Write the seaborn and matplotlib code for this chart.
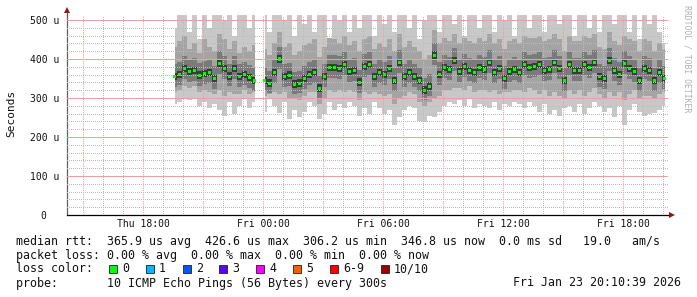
import numpy as np
import pandas as pd
import matplotlib
matplotlib.use("Agg")
import matplotlib.pyplot as plt
import matplotlib.dates as mdates
from matplotlib.patches import Rectangle
from matplotlib.ticker import FixedLocator, FuncFormatter
import seaborn as sns

nan = float("nan")

# ---------------- data (microseconds), 15-minute bins starting Thu 19:35 ----------------
start_time = "2026-01-22 19:35"
median = [355, 360, 375, 368, 370, 358, 362, 365, 350, 388, 375, 356, 375, 355, 360, 352, 345, nan,
          345, 338, 365, 400, 355, 358, 335, 338, 350, 360, 365, 325, 355, 378, 378, 375, 385, 368,
          370, 340, 380, 385, 355, 365, 360, 375, 345, 390, 355, 365, 355, 345, 320, 330, 410, 360,
          378, 372, 395, 368, 380, 370, 365, 378, 372, 390, 365, 375, 350, 368, 372, 365, 385, 378,
          380, 385, 370, 372, 390, 375, 345, 385, 370, 370, 385, 378, 390, 355, 350, 395, 370, 360,
          388, 375, 368, 345, 375, 370, 345, 365, 350]
smoke_min = [285, 290, 300, 295, 300, 280, 290, 275, 285, 270, 255, 290, 260, 280, 300, 275, 290, nan,
             265, 300, 280, 262, 290, 245, 270, 250, 265, 290, 280, 245, 260, 290, 270, 285, 275, 290,
             280, 255, 275, 260, 290, 275, 260, 270, 232, 250, 270, 280, 275, 240, 238, 255, 250, 265,
             280, 290, 285, 295, 280, 300, 275, 285, 280, 275, 290, 270, 285, 280, 290, 285, 275, 290,
             280, 265, 285, 260, 270, 255, 275, 280, 265, 285, 260, 275, 290, 280, 265, 275, 250, 280,
             232, 270, 285, 265, 255, 260, 262, 270, 280]
smoke_max = [480, 520, 520, 470, 520, 450, 520, 480, 520, 520, 500, 520, 460, 520, 520, 480, 520, nan,
             520, 470, 520, 520, 500, 520, 460, 520, 490, 520, 470, 520, 520, 450, 520, 500, 520, 470,
             520, 480, 520, 520, 460, 520, 490, 520, 470, 520, 520, 480, 520, 450, 500, 520, 520, 470,
             520, 520, 490, 520, 460, 520, 520, 480, 520, 520, 470, 520, 500, 520, 460, 520, 520, 480,
             520, 520, 470, 520, 520, 490, 520, 520, 460, 520, 520, 480, 520, 470, 520, 520, 490, 520,
             520, 470, 520, 450, 520, 490, 520, 470, 440]
smoke_q_low = [315, 320, 330, 325, 330, 315, 320, 315, 310, 320, 305, 315, 310, 310, 320, 310, 315, nan,
               305, 310, 315, 310, 315, 300, 300, 295, 305, 315, 315, 285, 300, 320, 315, 320, 315, 320,
               315, 295, 315, 310, 315, 310, 305, 310, 285, 300, 305, 315, 310, 290, 280, 290, 300, 305,
               320, 320, 325, 325, 320, 330, 315, 320, 320, 315, 320, 310, 315, 315, 320, 320, 315, 325,
               320, 310, 320, 305, 315, 305, 300, 320, 310, 320, 305, 315, 325, 310, 300, 315, 305, 315,
               295, 310, 320, 300, 305, 305, 300, 310, 315]
smoke_q_high = [430, 445, 460, 425, 440, 415, 450, 430, 420, 465, 450, 425, 445, 415, 430, 420, 435, nan,
                425, 410, 440, 470, 430, 440, 410, 420, 435, 440, 450, 405, 430, 455, 450, 440, 460, 435,
                445, 420, 450, 460, 425, 440, 430, 450, 420, 465, 430, 445, 430, 420, 400, 410, 475, 440,
                455, 445, 465, 440, 455, 445, 440, 455, 445, 465, 440, 450, 425, 445, 450, 440, 460, 455,
                455, 460, 445, 450, 465, 450, 420, 460, 445, 445, 460, 455, 465, 430, 425, 470, 445, 435,
                460, 450, 445, 420, 450, 445, 420, 440, 425]

y_ticks = [0, 100, 200, 300, 400, 500]
y_tick_labels = ["0  ", "100 u", "200 u", "300 u", "400 u", "500 u"]
y_minor_ticks = [v for v in range(20, 520, 20) if v % 100]

stats_rtt = "median rtt:  365.9 us avg  426.6 us max  306.2 us min  346.8 us now  0.0 ms sd   19.0   am/s"
stats_loss = "packet loss: 0.00 % avg  0.00 % max  0.00 % min  0.00 % now"
probe_text = "probe:       10 ICMP Echo Pings (56 Bytes) every 300s"
stamp_text = "Fri Jan 23 20:10:39 2026"
loss_labels = ["0", "1", "2", "3", "4", "5", "6-9", "10/10"]
loss_colors = ["#00ff00", "#00b8ff", "#0059ff", "#5e00ff", "#ff00ff", "#ff5e00", "#ff0000", "#a10000"]

# ---------------- figure ----------------
sns.set_theme(style="white")
plt.rcParams["font.family"] = ["DejaVu Sans Mono", "DejaVu Sans"]

W, H = 697, 297
fig = plt.figure(figsize=(W / 100, H / 100), dpi=100)
fig.patch.set_facecolor("white")


def fx(x):
    return x / W


def fy(y):
    return 1 - y / H


ax = fig.add_axes([fx(67), fy(215), 601 / W, 200 / H])
ax.set_facecolor("white")

df = pd.DataFrame({
    "time": pd.date_range(start_time, periods=len(median), freq="15min"),
    "median": median,
    "lo": smoke_min,
    "hi": smoke_max,
    "q_lo": smoke_q_low,
    "q_hi": smoke_q_high,
})
t = df["time"]
med = df["median"].to_numpy(float)

ax.fill_between(t, df["lo"], df["hi"], step="mid", color="#c8c8c8", linewidth=0, zorder=1)
ax.fill_between(t, df["q_lo"], df["q_hi"], step="mid", color="#a4a4a4", linewidth=0, zorder=1.1)
ax.fill_between(t, med - 26, med + 32, step="mid", color="#7a7a7a", linewidth=0, zorder=1.2)
ax.fill_between(t, med - 9, med + 10, step="mid", color="#3a3a3a", linewidth=0, zorder=1.3)

sns.scatterplot(data=df, x="time", y="median", ax=ax, marker="s", s=5, color="#00ff00",
                edgecolor="none", linewidth=0, zorder=4, legend=False)
ax.set_xlabel("")
ax.set_ylabel("")

# axes limits
ax.set_xlim(pd.Timestamp("2026-01-22 14:12"), pd.Timestamp("2026-01-23 20:15"))
ax.set_ylim(0, 512.8)

# grid
ax.set_axisbelow(False)
ax.xaxis.set_major_locator(mdates.HourLocator(byhour=range(0, 24, 3)))
ax.xaxis.set_minor_locator(mdates.HourLocator(byhour=[h for h in range(24) if h % 3]))


def xfmt(x, pos):
    d = mdates.num2date(x)
    return d.strftime("%a %H:%M") if d.hour % 6 == 0 else ""


ax.xaxis.set_major_formatter(FuncFormatter(xfmt))
ax.yaxis.set_major_locator(FixedLocator(y_ticks))
ax.yaxis.set_minor_locator(FixedLocator(y_minor_ticks))
ax.set_yticklabels(y_tick_labels)

ax.grid(which="minor", color="#bdbdbd", linestyle=(0, (1, 2)), linewidth=0.72, antialiased=False)
ax.grid(which="major", axis="y", color="#eca0a0", linestyle=(0, (1, 1)), linewidth=0.72,
        antialiased=False)
ax.grid(which="major", axis="x", color="#f0a0a0", linestyle=(0, (1, 1)), linewidth=0.8,
        antialiased=True)

ax.tick_params(axis="both", which="major", length=2.2, width=0.72, color="#505050",
               labelsize=7, labelcolor="#111111")
ax.tick_params(axis="both", which="minor", length=1.4, width=0.72, color="#909090")
ax.tick_params(axis="y", which="major", pad=3.6)
ax.tick_params(axis="x", which="major", pad=0.8)

for s in ["top", "right"]:
    ax.spines[s].set_visible(False)
ax.spines["left"].set_color("#606060")
ax.spines["left"].set_linewidth(0.9)
ax.spines["bottom"].set_color("#000000")
ax.spines["bottom"].set_linewidth(0.9)

# axis extensions and arrows
ax.plot([0, 0], [1.0, 1.02], transform=ax.transAxes, color="#606060", lw=0.9, clip_on=False)
ax.plot([1.0, 1.004], [0, 0], transform=ax.transAxes, color="#000000", lw=0.9, clip_on=False)
ax.plot([0], [1.025], transform=ax.transAxes, marker="^", markersize=4, color="#8b1a1a",
        markeredgewidth=0, clip_on=False)
ax.plot([1.0065], [0], transform=ax.transAxes, marker=">", markersize=4, color="#8b1a1a",
        markeredgewidth=0, clip_on=False)

# labels
fig.text(fx(11), fy(113), "Seconds", rotation=90, ha="center", va="center", fontsize=8, color="#111111")
fig.text(fx(687), fy(59), "RRDTOOL / TOBI OETIKER", rotation=-90, ha="center", va="center",
         fontsize=5.9, color="#b0b0b0")

fs = 8.4
fig.text(fx(16), fy(241), stats_rtt, ha="left", va="center", fontsize=fs, color="#111111")
fig.text(fx(16), fy(255), stats_loss, ha="left", va="center", fontsize=fs, color="#111111")
fig.text(fx(16), fy(269), "loss color:", ha="left", va="center", fontsize=fs, color="#111111")
fig.text(fx(16), fy(283), probe_text, ha="left", va="center", fontsize=fs, color="#111111")
fig.text(fx(681), fy(283), stamp_text, ha="right", va="center", fontsize=fs, color="#111111")

char_w = 7.03
x0 = 109.0
for lab, col in zip(loss_labels, loss_colors):
    fig.patches.append(Rectangle((fx(x0), fy(273)), 8 / W, 8 / H, transform=fig.transFigure,
                                 facecolor=col, edgecolor="#202020", linewidth=0.6))
    fig.text(fx(x0 + 13), fy(269), lab, ha="left", va="center", fontsize=fs, color="#111111")
    x0 += 13 + len(lab) * char_w + 16.8

fig.savefig("out.png", dpi=100, facecolor="white")
